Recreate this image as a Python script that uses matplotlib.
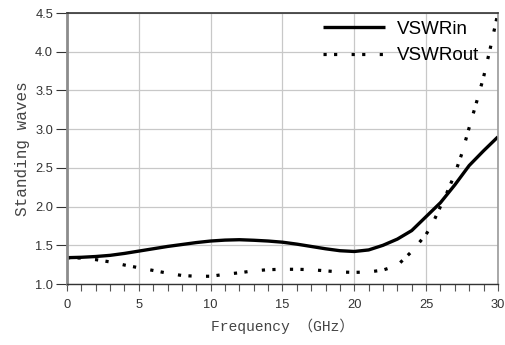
import matplotlib
matplotlib.use("Agg")
import matplotlib.pyplot as plt
from matplotlib.ticker import MultipleLocator

freq_in = [0, 1, 2, 3, 4, 5, 6, 7, 8, 9, 10, 11, 12, 13, 14, 15, 16, 17, 18, 19, 20,
           21, 22, 23, 24, 25, 26, 27, 28, 29, 30]
vswr_in = [1.34, 1.345, 1.355, 1.37, 1.395, 1.425, 1.455, 1.485, 1.51, 1.535, 1.555,
           1.567, 1.572, 1.565, 1.555, 1.54, 1.515, 1.485, 1.455, 1.43, 1.42,
           1.44, 1.50, 1.58, 1.69, 1.87, 2.05, 2.28, 2.53, 2.72, 2.90]

freq_out = [0, 1, 2, 3, 4, 5, 6, 7, 8, 9, 10, 11, 12, 13, 14, 15, 16, 17, 18, 19, 20,
            21, 22, 23, 24, 25, 25.5, 26, 26.5, 27, 27.5, 28, 28.5, 29, 29.5, 30]
vswr_out = [1.34, 1.335, 1.315, 1.285, 1.245, 1.21, 1.175, 1.14, 1.11, 1.10, 1.10,
            1.125, 1.145, 1.17, 1.185, 1.19, 1.19, 1.185, 1.17, 1.155, 1.15,
            1.155, 1.18, 1.24, 1.42, 1.64, 1.80, 2.0, 2.2, 2.42, 2.69, 3.02, 3.34,
            3.67, 4.07, 4.5]

x_ticks = [0, 5, 10, 15, 20, 25, 30]
y_ticks = [1.0, 1.5, 2.0, 2.5, 3.0, 3.5, 4.0, 4.5]

fig = plt.figure(figsize=(5.06, 3.45), dpi=100)
ax = fig.add_axes([0.1324, 0.1768, 0.8516, 0.7855])

ax.plot(freq_in, vswr_in, color="black", lw=2.4, label="VSWRin", solid_capstyle="butt")
ax.plot(freq_out, vswr_out, color="black", lw=2.3, label="VSWRout",
        linestyle=(0, (1, 2.3, 1, 4.5)), dash_capstyle="butt")

ax.set_xlim(0, 30)
ax.set_ylim(1.0, 4.5)
ax.set_xticks(x_ticks)
ax.set_yticks(y_ticks)
ax.set_xticklabels([str(v) for v in x_ticks])
ax.set_yticklabels([f"{v:.1f}" for v in y_ticks])
ax.xaxis.set_minor_locator(MultipleLocator(1))
ax.grid(True, which="major", color="#c8c8c8", lw=0.9)
ax.set_axisbelow(True)

for lab in ax.get_xticklabels() + ax.get_yticklabels():
    lab.set_family("Liberation Sans")
    lab.set_fontsize(9.3)
    lab.set_color("#333333")

ax.tick_params(axis="x", which="both", direction="out", length=5, width=0.8,
               color="#555555", pad=6)
ax.tick_params(axis="y", which="major", direction="out", length=8, width=0.8,
               color="#333333", pad=2)

ax.spines["left"].set_color("#8c8c8c")
ax.spines["left"].set_linewidth(2)
ax.spines["right"].set_color("#9a9a9a")
ax.spines["right"].set_linewidth(1.2)
ax.spines["top"].set_color("#333333")
ax.spines["top"].set_linewidth(1.2)
ax.spines["bottom"].set_color("#333333")
ax.spines["bottom"].set_linewidth(1.0)

ax.set_xlabel("Frequency （GHz）", family=["Liberation Mono", "Noto Sans CJK SC"],
              fontsize=10.5, color="#444444", labelpad=5)
ax.set_ylabel("Standing waves", family=["Liberation Mono", "Noto Sans CJK SC"],
              fontsize=11.5, color="#444444", labelpad=4)

leg = ax.legend(loc="upper right", frameon=False, prop={"family": "Liberation Sans", "size": 13.5},
                handlelength=3.3, handletextpad=0.6, labelspacing=0.5,
                borderaxespad=0.0, bbox_to_anchor=(0.973, 1.0))

fig.savefig("out.png", dpi=100)
